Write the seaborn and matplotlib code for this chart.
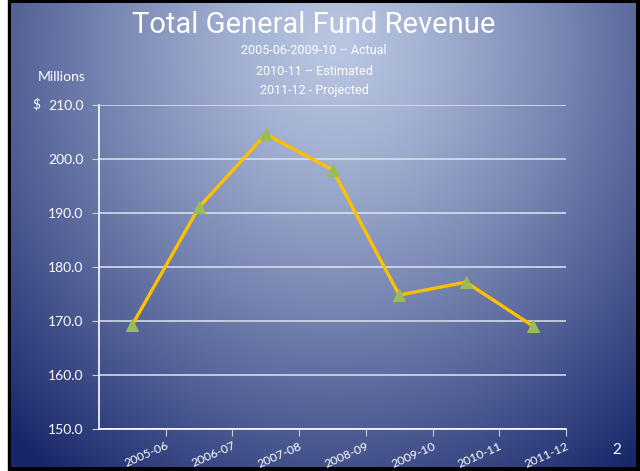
import numpy as np
import pandas as pd
import matplotlib
matplotlib.use("Agg")
import matplotlib.pyplot as plt
import matplotlib.colors as mcolors
import seaborn as sns

# Data
years = ["2005-06", "2006-07", "2007-08", "2008-09", "2009-10", "2010-11", "2011-12"]
revenue = [169.3, 191.1, 204.6, 198.0, 174.8, 177.2, 169.1]
y_ticks = [150, 160, 170, 180, 190, 200, 210]

df = pd.DataFrame({"year": years, "revenue": revenue})

sns.set_style("white")
plt.rcParams['font.family'] = ['Lato', 'DejaVu Sans']
narrow = ['Roboto', 'DejaVu Sans']

fig = plt.figure(figsize=(6.4, 4.71), dpi=100)
fig.patch.set_facecolor("white")

# slide background: black frame + radial blue gradient
bg = fig.add_axes([0, 0, 1, 1], zorder=0)
bg.set_xlim(0, 640)
bg.set_ylim(471, 0)
bg.axis("off")
W, H = 640, 471
xx, yy = np.meshgrid(np.arange(W), np.arange(H))
t = np.sqrt(((xx - 335) / 470.0) ** 2 + ((yy - 45) / 540.0) ** 2)
t = np.clip(t, 0, 1) ** 1.25
light = np.array(mcolors.to_rgb("#b8c6e2"))
dark = np.array(mcolors.to_rgb("#17266a"))
img = light[None, None, :] * (1 - t[..., None]) + dark[None, None, :] * t[..., None]
bg.add_patch(plt.Rectangle((8, 0), 632, 471, color="black", zorder=1))
bg.imshow(img[3:467, 11:636], extent=(11, 636, 467, 3), zorder=2, aspect="auto")

ax = fig.add_axes([0.1547, 0.0892, 0.7297, 0.6878], zorder=2)
ax.set_facecolor("none")

sns.lineplot(data=df, x="year", y="revenue", ax=ax, color="#ffc000", linewidth=2.4,
             marker="^", markersize=8, markerfacecolor="#9bbb59",
             markeredgecolor="#9bbb59", zorder=3)

ax.set_xlim(-0.5, len(years) - 0.5)
ax.set_ylim(150, 210)
ax.set_yticks(y_ticks)
ax.set_yticklabels([f"{v:.1f}" for v in y_ticks], color="white", fontsize=10)
ax.set_xticks(np.arange(len(years)) + 0.5)
ax.set_xticklabels(years, rotation=24, ha="right", rotation_mode="anchor",
                   color="white", fontsize=8.8)
ax.set_xlabel("")
ax.set_ylabel("")

ax.grid(axis="y", color="#dfe3f2", linewidth=1.1)
ax.grid(axis="x", visible=False)
for s in ["top", "right"]:
    ax.spines[s].set_visible(False)
for s in ["left", "bottom"]:
    ax.spines[s].set_color("white")
    ax.spines[s].set_linewidth(1.2)
ax.tick_params(axis="y", length=5, color="#c8cce0", pad=6)
ax.tick_params(axis="x", length=5, color="#c8cce0", pad=3, direction="out")
ax.tick_params(left=True, bottom=True)

fig.text(0.49, 0.947, "Total General Fund Revenue", ha="center", va="center",
         color="white", fontsize=21, family=narrow)
fig.text(0.491, 0.893, "2005-06-2009-10 \u2013 Actual", ha="center", va="center",
         color="white", fontsize=9, family=narrow)
fig.text(0.491, 0.849, "2010-11 \u2013 Estimated", ha="center", va="center",
         color="white", fontsize=9, family=narrow)
fig.text(0.491, 0.808, "2011-12 - Projected", ha="center", va="center",
         color="white", fontsize=9, family=narrow)
fig.text(0.097, 0.837, "Millions", ha="center", va="center", color="white", fontsize=10)
fig.text(0.056, 0.779, "$", ha="center", va="center", color="white", fontsize=10)
fig.text(0.964, 0.045, "2", ha="center", va="center", color="white", fontsize=11)

fig.savefig("out.png", dpi=100, facecolor=fig.get_facecolor())
